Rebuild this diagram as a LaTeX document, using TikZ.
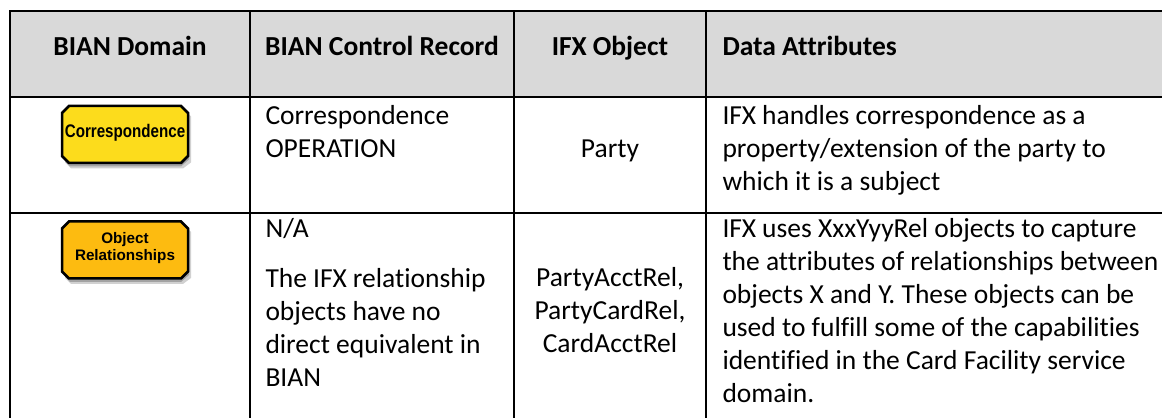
\documentclass[tikz,border=0pt]{standalone}
\usepackage{fontspec}
\setmainfont{Carlito}[Ligatures=NoCommon]
\newfontfamily\arialfont{Liberation Sans}

\definecolor{headgray}{HTML}{D9D9D9}
\definecolor{domyellow}{HTML}{FCDC1C}
\definecolor{domorange}{HTML}{FDBB10}

\tikzset{
 dombox/.style={inner sep=0pt, align=center, font=\arialfont\bfseries\fontsize{6.1}{6.8}\selectfont},
 cell/.style={inner sep=0pt, font=\fontsize{11}{13.4}\selectfont},
 head/.style={cell, anchor=base, font=\bfseries\fontsize{11}{13.4}\selectfont},
}

\begin{document}
\begin{tikzpicture} [x=0.4pt, y=-0.4pt]
\useasboundingbox (0,0) rectangle (1162,418);
\fill[headgray] (10,11) rectangle (1162,97);
\foreach \y in {11, 97, 213} {
 \draw[black, line width=0.8pt] (9,\y) -- (1162,\y);
}
\foreach \x in {10, 250, 514, 706} {
 \draw[black, line width=0.8pt] (\x,11) -- (\x,418);
}
% header
\node[head] (hdom) at (130,56) {BIAN Domain};
\node[head] (hrec) at (382,56) {BIAN Control Record};
\node[head] (hobj) at (610,56) {IFX Object};
\node[head, anchor=base west] (hatt) at (722,56) {Data Attributes};
% domain boxes, chamfered, with shadow
\foreach \cy/\col in {134.5/domyellow, 250/domorange} {
 \begin{scope}[shift={(125,\cy)}]
 \fill[black, opacity=.18] (-54,-26) -- (58,-26) -- (66,-18) -- (66,28) -- (58,34) -- (-54,34) -- (-60,28) -- (-60,-18) -- cycle;
 \fill[black, opacity=.22] (-55,-27) -- (56,-27) -- (64,-19) -- (64,25) -- (56,32) -- (-55,32) -- (-61,25) -- (-61,-19) -- cycle;
 \draw[line width=1pt, fill=\col] (-56,-28.5) -- (56,-28.5) -- (63,-21.5) -- (63,21.5) -- (56,28.5) -- (-56,28.5) -- (-63,21.5) -- (-63,-21.5) -- cycle;
 \end{scope}
}
% row 1
\node[dombox] (corr) at (125,133) {\scalebox{.83}[1]{\fontsize{7.3}{8}\selectfont Correspondence}};
\foreach \t [count=\i] in {Correspondence, OPERATION} {
 \node[cell, anchor=base west] (rec1-\i) at (265,{92+33*\i}) {\t};
}
\node[cell, anchor=base] (obj1) at (610,158) {Party};
\foreach \t [count=\i] in {IFX handles correspondence as a, property/extension of the party to, which it is a subject} {
 \node[cell, anchor=base west] (att1-\i) at (722,{92+33*\i}) {\t};
}
% row 2
\node[dombox] (orel) at (125,248) {Object\\Relationships};
\node[cell, anchor=base west] (rec2-0) at (265,238) {N/A};
\foreach \t [count=\i] in {The IFX relationship, objects have no, direct equivalent in, BIAN} {
 \node[cell, anchor=base west] (rec2-\i) at (265,{255+33*\i}) {\t};
}
\foreach \t [count=\i] in {{PartyAcctRel,}, {PartyCardRel,}, CardAcctRel} {
 \node[cell, anchor=base] (obj2-\i) at (610,{254+33*\i}) {\t};
}
\foreach \t [count=\i] in {IFX uses XxxYyyRel objects to capture, the attributes of relationships between,
  objects X and Y. These objects can be, used to fulfill some of the capabilities,
  identified in the Card Facility service, domain.} {
 \node[cell, anchor=base west] (att2-\i) at (722,{205+33*\i}) {\t};
}
\end{tikzpicture}
\end{document}
